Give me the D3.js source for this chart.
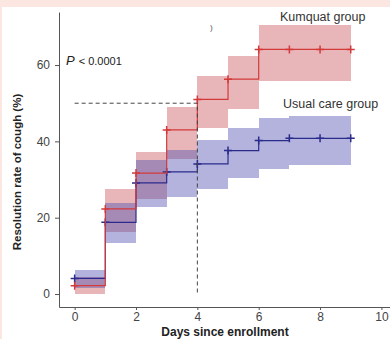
<!DOCTYPE html>
<html>
<head>
<meta charset="utf-8">
<script src="https://d3js.org/d3.v7.min.js"></script>
<style>
  body { margin: 0; background: #fbe6e2; }
  svg { display: block; font-family: Arial, "Liberation Sans", sans-serif; }
  .tick text { fill: #444; font-size: 12px; }
  .domain, .tick line { stroke: #555; }
</style>
</head>
<body>
<script>
// days at which the curves step
var days = [0, 1, 2, 3, 4, 5, 6, 7, 8, 9];
// Kumquat group: rate at each day, and CI per interval [d, d+1]
var kumquat = [2.2, 22.3, 31.7, 43, 51, 56.3, 64.1, 64.1, 64.1, 64.1];
var kumquatLo = [0, 16.2, 25, 35.4, 43.6, 48.5, 55.9, 55.9, 55.9];
var kumquatHi = [4.5, 27.6, 37.2, 48.9, 57.2, 62.4, 70.4, 70.4, 70.4];
// Usual care group
var usual = [4.1, 18.8, 29.1, 32, 34.1, 37.6, 40.2, 40.8, 40.8, 40.8];
var usualLo = [1.5, 13.3, 22.7, 25.3, 27.6, 30.4, 32.8, 33.7, 33.7];
var usualHi = [6.3, 23.8, 35, 37.8, 40.4, 43.4, 46, 46.7, 46.7];

var xTicks = [0, 2, 4, 6, 8, 10];
var yTicks = [0, 20, 40, 60];

var width = 390, height = 339;

var svg = d3.select("body").append("svg")
    .attr("width", width)
    .attr("height", height);

svg.append("rect")
    .attr("x", 2).attr("y", 7)
    .attr("width", width - 2).attr("height", height - 7)
    .attr("fill", "#fff");

var x = d3.scaleLinear().domain([-0.51, 10.28]).range([59, 390]);
var y = d3.scaleLinear().domain([-3.4, 73.9]).range([307, 12]);

function bands(lo, hi, color, op) {
  svg.append("g").selectAll("rect")
    .data(lo)
    .enter().append("rect")
    .attr("x", function(d, i) { return x(days[i]); })
    .attr("width", function(d, i) { return x(days[i] + 1) - x(days[i]); })
    .attr("y", function(d, i) { return y(hi[i]); })
    .attr("height", function(d, i) { return y(lo[i]) - y(hi[i]); })
    .attr("fill", color)
    .attr("fill-opacity", op)
    .attr("shape-rendering", "crispEdges");
}

bands(kumquatLo, kumquatHi, "#cd5a64", 0.45);
bands(usualLo, usualHi, "#5656b4", 0.45);

function steps(vals, color) {
  var pts = days.map(function(d, i) { return [d, vals[i]]; });
  var line = d3.line()
    .x(function(d) { return x(d[0]); })
    .y(function(d) { return y(d[1]); })
    .curve(d3.curveStepAfter);
  svg.append("path")
    .datum(pts)
    .attr("d", line)
    .attr("fill", "none")
    .attr("stroke", color)
    .attr("stroke-width", 1.2);
  svg.append("g").selectAll("path")
    .data(pts)
    .enter().append("path")
    .attr("d", function(d) {
      var cx = x(d[0]), cy = y(d[1]);
      return "M" + (cx - 4) + "," + cy + "H" + (cx + 4) + "M" + cx + "," + (cy - 4) + "V" + (cy + 4);
    })
    .attr("stroke", color)
    .attr("stroke-width", 1.5);
}

steps(usual, "#2b2b8c");
steps(kumquat, "#d23a3a");

// median markers
svg.append("path")
    .attr("d", "M" + x(0) + "," + y(50) + "H" + x(4) + "V" + y(0))
    .attr("fill", "none")
    .attr("stroke", "#444")
    .attr("stroke-width", 1)
    .attr("stroke-dasharray", "4,3");

// axes
svg.append("g")
    .attr("transform", "translate(0," + 307 + ")")
    .call(d3.axisBottom(x).tickValues(xTicks).tickSize(3).tickSizeOuter(0).tickPadding(2));

svg.append("g")
    .attr("transform", "translate(" + 59 + ",0)")
    .call(d3.axisLeft(y).tickValues(yTicks).tickSize(4).tickSizeOuter(0).tickPadding(5));

svg.selectAll(".domain").attr("stroke", "#555");

// labels
svg.append("text")
    .attr("x", 225).attr("y", 336)
    .attr("text-anchor", "middle")
    .attr("font-size", 12).attr("font-weight", "bold").attr("fill", "#222")
    .text("Days since enrollment");

svg.append("text")
    .attr("transform", "translate(21,172) rotate(-90)")
    .attr("text-anchor", "middle")
    .attr("font-size", 11.5).attr("font-weight", "bold").attr("fill", "#222")
    .text("Resolution rate of cough (%)");

var p = svg.append("text").attr("x", 66).attr("y", 65).attr("fill", "#222");
p.append("tspan").attr("font-style", "italic").attr("font-size", 13).text("P");
p.append("tspan").attr("font-size", 11).attr("dx", 4).text("< 0.0001");

svg.append("text")
    .attr("x", 280).attr("y", 21)
    .attr("font-size", 12.5).attr("fill", "#333")
    .text("Kumquat group");

svg.append("text")
    .attr("x", 283).attr("y", 108)
    .attr("font-size", 12.5).attr("fill", "#333")
    .text("Usual care group");

svg.append("text")
    .attr("x", 210).attr("y", 30)
    .attr("font-size", 8).attr("fill", "#555")
    .text(")");
</script>
</body>
</html>
